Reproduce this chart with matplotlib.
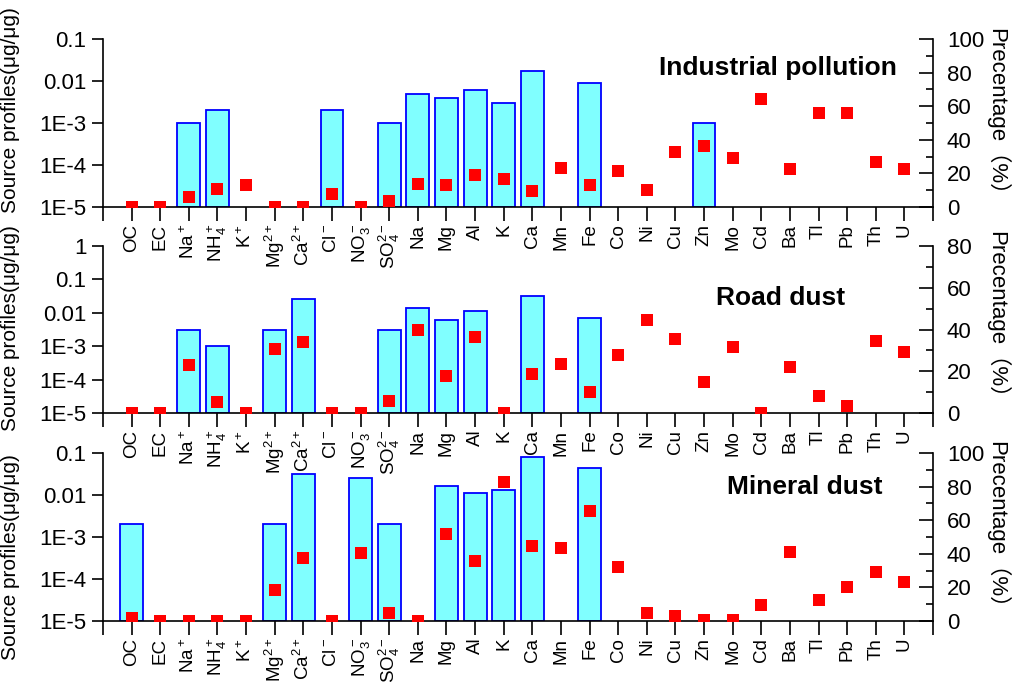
import numpy as np
import matplotlib
matplotlib.use("Agg")
import matplotlib.pyplot as plt
from matplotlib.ticker import FixedLocator, MultipleLocator, NullLocator

plt.rcParams['font.family'] = ['Liberation Sans', 'DejaVu Sans']
plt.rcParams['mathtext.fontset'] = 'custom'
plt.rcParams['mathtext.rm'] = 'Liberation Sans'
plt.rcParams['mathtext.it'] = 'Liberation Sans'
plt.rcParams['mathtext.bf'] = 'Liberation Sans:bold'
plt.rcParams['mathtext.default'] = 'regular'

categories = ['OC', 'EC', r'Na$^+$', r'NH$_4^+$', r'K$^+$', r'Mg$^{2+}$', r'Ca$^{2+}$',
              r'Cl$^-$', r'NO$_3^-$', r'SO$_4^{2-}$', 'Na', 'Mg', 'Al', 'K', 'Ca', 'Mn',
              'Fe', 'Co', 'Ni', 'Cu', 'Zn', 'Mo', 'Cd', 'Ba', 'Tl', 'Pb', 'Th', 'U']

# Source profiles (ug/ug); 0 = no bar
industrial_profile = [0, 0, 1e-3, 2e-3, 0, 0, 0, 2e-3, 0, 1e-3, 5e-3, 4e-3, 6e-3, 3e-3,
                      0.017, 0, 9e-3, 0, 0, 0, 1e-3, 0, 0, 0, 0, 0, 0, 0]
road_profile = [0, 0, 3e-3, 1e-3, 0, 3e-3, 0.026, 0, 0, 3e-3, 0.014, 6e-3, 0.011, 0,
                0.032, 0, 7e-3, 0, 0, 0, 0, 0, 0, 0, 0, 0, 0, 0]
mineral_profile = [2e-3, 0, 0, 0, 0, 2e-3, 0.031, 0, 0.025, 2e-3, 0, 0.016, 0.011, 0.013,
                   0.08, 0, 0.044, 0, 0, 0, 0, 0, 0, 0, 0, 0, 0, 0]

# Percentage (%)
industrial_pct = [0, 0, 6, 10.7, 12.9, 0, 0, 7.7, 0, 3.3, 13.9, 13.1, 19, 16.5,
                  9.7, 23, 12.9, 21.4, 10.1, 32.9, 36.3, 29, 64.5, 22.8, 55.8, 55.8, 26.6, 22.6]
road_pct = [0, 0, 22.8, 5.4, 0, 30.8, 33.9, 0, 0, 5.6, 40, 17.5, 36.2, 0,
            18.6, 23.3, 9.9, 27.6, 44.5, 35.4, 15, 31.6, 0, 22.2, 8, 3.2, 34.7, 29]
mineral_pct = [1.8, 0, 0, 0, 0, 18.3, 37.6, 0, 40.2, 4.6, 0, 51.6, 35.5, 83,
               44.8, 43.4, 65.5, 32, 4.6, 2.8, 0.8, 0.8, 9.6, 41, 12.7, 20.3, 28.9, 23.3]

titles = ['Industrial pollution', 'Road dust', 'Mineral dust']
profiles = [industrial_profile, road_profile, mineral_profile]
pcts = [industrial_pct, road_pct, mineral_pct]
ytops = [0.1, 1, 0.1]
pct_tops = [100, 80, 100]

W, H = 1018, 682
fig = plt.figure(figsize=(W / 100, H / 100), dpi=100)

# pixel layout (top, bottom) for each panel
panel_px = [(39, 207), (246, 413), (453, 621)]
left_px, right_px = 103, 933
title_pos = [(0.813, 0.827), (0.816, 0.689), (0.846, 0.798)]
ylabel_centers = [110, 328, 557]
rlabel_centers = [117, 320, 530]

log_labels = {1e-5: '1E-5', 1e-4: '1E-4', 1e-3: '1E-3', 1e-2: '0.01', 1e-1: '0.1', 1: '1'}

x = np.arange(len(categories))
lw = 1.2
for i in range(3):
    top, bot = panel_px[i]
    ax = fig.add_axes([left_px / W, 1 - bot / H, (right_px - left_px) / W, (bot - top) / H])
    prof = np.array(profiles[i], dtype=float)
    mask = prof > 0
    ax.bar(x[mask], prof[mask] - 1e-5, bottom=1e-5, width=0.8, color='#80FFFF',
           edgecolor='#0000FF', linewidth=1.3, zorder=2)
    ax.set_yscale('log')
    ax.set_ylim(1e-5, ytops[i])
    ax.set_xlim(-1, 28)
    ticks = [t for t in [1e-5, 1e-4, 1e-3, 1e-2, 1e-1, 1] if t <= ytops[i] * 1.0001]
    ax.yaxis.set_major_locator(FixedLocator(ticks))
    ax.yaxis.set_minor_locator(NullLocator())
    ax.set_yticklabels([log_labels[t] for t in ticks])
    ax.set_xticks(np.arange(-1, 29))
    ax.set_xticklabels([''] + categories + [''], rotation=90)
    ax.tick_params(axis='x', direction='out', length=10, width=lw, labelsize=13.5, pad=2)
    ax.tick_params(axis='y', direction='out', length=8, width=lw, labelsize=16, pad=4)
    for s in ['top', 'right']:
        ax.spines[s].set_visible(False)
    for s in ['left', 'bottom']:
        ax.spines[s].set_linewidth(lw)
    ax.patch.set_alpha(0)

    ax2 = ax.twinx()
    ax2.plot(x, pcts[i], linestyle='none', marker='s', markersize=8,
             color='#FF0000', markeredgewidth=0, clip_on=True, zorder=3)
    ax2.set_ylim(0, pct_tops[i])
    ax2.yaxis.set_major_locator(MultipleLocator(20))
    ax2.yaxis.set_minor_locator(MultipleLocator(10))
    ax2.tick_params(axis='y', which='major', direction='in', length=10, width=lw,
                    labelsize=16, pad=10)
    ax2.tick_params(axis='y', which='minor', direction='in', length=5, width=lw)
    for s in ['top', 'left', 'bottom']:
        ax2.spines[s].set_visible(False)
    ax2.spines['right'].set_linewidth(lw)
    ax2.set_xlim(-1, 28)

    ax2.text(title_pos[i][0], title_pos[i][1], titles[i], transform=ax.transAxes,
             ha='center', va='center', fontsize=19, fontweight='bold')

    fig.text(11 / W, 1 - ylabel_centers[i] / H, 'Source profiles(μg/μg)', rotation=90,
             ha='center', va='center', fontsize=15)
    fig.text(997 / W, 1 - rlabel_centers[i] / H, 'Precentage（%）', rotation=270,
             ha='center', va='center', fontsize=16,
             family=['Liberation Sans', 'Noto Sans CJK SC'])

fig.savefig('out.png', dpi=100)
